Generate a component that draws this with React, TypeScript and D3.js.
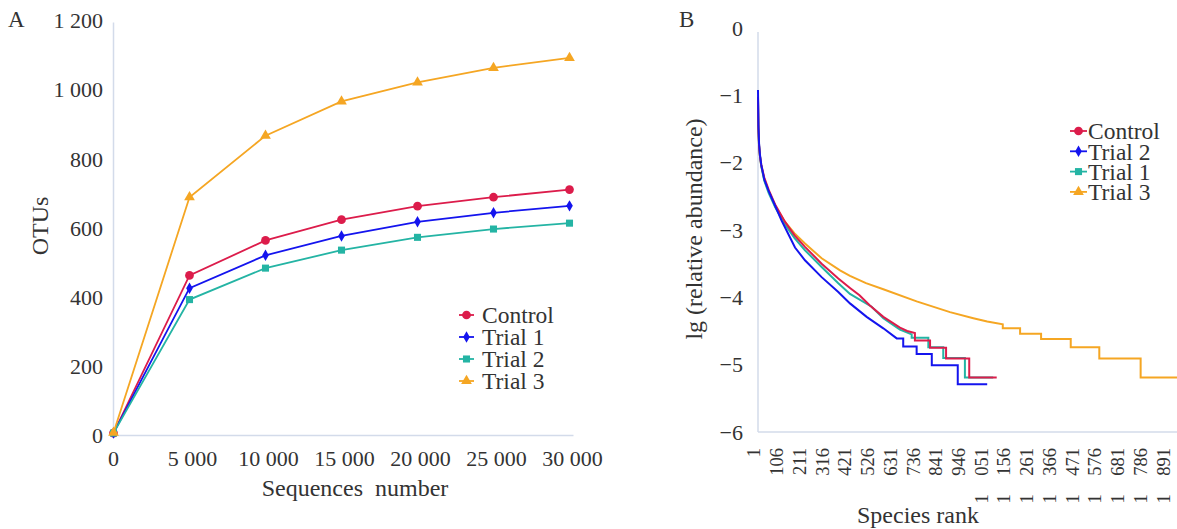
import React from "react";
import * as d3 from "d3";

// ---------- Panel A data ----------
const seqTicks = [0, 5000, 10000, 15000, 20000, 25000, 30000];
const otuTicks = [0, 200, 400, 600, 800, 1000, 1200];
const seqX = [0, 5000, 10000, 15000, 20000, 25000, 30000];
const controlA = [7, 463, 564, 624, 663, 689, 711];
const trial1A = [7, 426, 521, 577, 618, 644, 664];
const trial2A = [7, 393, 484, 536, 573, 597, 614];
const trial3A = [8, 689, 867, 966, 1021, 1063, 1092];
const namesA = ["Control", "Trial 1", "Trial 2", "Trial 3"];

// ---------- Panel B data (rank, lg abundance) ----------
const rankTicks = [1, 106, 211, 316, 421, 526, 631, 736, 841, 946, 1051, 1156, 1261, 1366, 1471, 1576, 1681, 1786, 1891];
const lgTicks = [0, -1, -2, -3, -4, -5, -6];
const controlB: [number, number][] = [[1,-1.02],[3,-1.5],[6,-1.75],[10,-1.9],[16,-2.03],[30,-2.22],[50,-2.4],[80,-2.62],[126,-2.88],[170,-3.08],[218,-3.25],[295,-3.50],[372,-3.72],[426,-3.86],[470,-3.97],[518,-4.12],[580,-4.29],[657,-4.45],[690,-4.5],[726,-4.53],[726,-4.64],[796,-4.64],[796,-4.75],[870,-4.75],[870,-4.91],[977,-4.91],[977,-5.19],[1104,-5.19]];
const trial2B: [number, number][] = [[1,-0.92],[3,-1.45],[6,-1.72],[10,-1.88],[16,-2.03],[30,-2.25],[50,-2.42],[80,-2.64],[110,-2.86],[141,-3.06],[172,-3.26],[218,-3.45],[295,-3.70],[372,-3.92],[426,-4.09],[503,-4.29],[580,-4.46],[642,-4.61],[672,-4.61],[672,-4.73],[734,-4.73],[734,-4.84],[804,-4.84],[804,-5.01],[924,-5.01],[924,-5.29],[1060,-5.29]];
const trial1B: [number, number][] = [[1,-1.05],[3,-1.5],[6,-1.75],[10,-1.9],[16,-2.05],[30,-2.27],[50,-2.45],[80,-2.66],[126,-2.92],[170,-3.12],[218,-3.30],[295,-3.55],[372,-3.79],[426,-3.95],[526,-4.14],[580,-4.31],[657,-4.48],[711,-4.55],[711,-4.60],[788,-4.60],[788,-4.74],[857,-4.74],[857,-4.90],[957,-4.90],[957,-5.19],[1088,-5.19]];
const trial3B: [number, number][] = [[1,-1.07],[3,-1.5],[6,-1.75],[10,-1.9],[16,-2.05],[30,-2.25],[50,-2.42],[80,-2.64],[126,-2.88],[170,-3.05],[218,-3.20],[295,-3.42],[380,-3.60],[426,-3.68],[500,-3.79],[580,-3.88],[734,-4.06],[888,-4.22],[996,-4.31],[1060,-4.36],[1132,-4.40],[1132,-4.46],[1212,-4.46],[1212,-4.54],[1309,-4.54],[1309,-4.62],[1446,-4.62],[1446,-4.74],[1578,-4.74],[1578,-4.91],[1769,-4.91],[1769,-5.19],[1937,-5.19]];
const namesB = ["Control", "Trial 2", "Trial 1", "Trial 3"];

const colors = ["#dc1c4b", "#1414ee", "#24b4a4", "#f5a623"];
const symbols = [d3.symbolCircle, d3.symbolDiamond, d3.symbolSquare, d3.symbolTriangle];
const symSizes = [60, 38, 50, 50];
const axisColor = "#d3dbea";
const FONT = "'Liberation Serif', 'Times New Roman', serif";
const textColor = "#333";

const fmt = (v: number, sep = " ") => {
  const s = Math.abs(v).toString().replace(/\B(?=(\d{3})+(?!\d))/g, sep);
  return (v < 0 ? "\u2212" : "") + s;
};

export default function App() {
  // Panel A scales
  const xA = d3.scaleLinear().domain([0, 30000]).range([113.5, 569.5]);
  const yA = d3.scaleLinear().domain([0, 1200]).range([435.5, 20.5]);
  const seriesA = [controlA, trial1A, trial2A, trial3A];
  const lineA = d3.line<[number, number]>().x(d => xA(d[0])).y(d => yA(d[1]));

  // Panel B scales
  const xB = d3.scaleLinear().domain([1, 1937]).range([758, 1177]);
  const yB = d3.scaleLinear().domain([0, -6]).range([28, 432]);
  const seriesB = [controlB, trial2B, trial1B, trial3B];
  const lineB = d3.line<[number, number]>().x(d => xB(d[0])).y(d => yB(d[1]));

  return (
    <svg width={1177} height={529} style={{ position: "absolute", left: 0, top: 0, background: "#fff" }} fontFamily={FONT}>
      {/* ---------------- Panel A ---------------- */}
      <text x={8} y={27} fontSize={23} fill={textColor}>A</text>
      <line x1={xA(0)} x2={xA(0)} y1={yA(1200) + 2} y2={yA(0)} stroke={axisColor} strokeWidth={1.5} />
      <line x1={xA(0)} x2={xA(30000) + 4} y1={yA(0)} y2={yA(0)} stroke={axisColor} strokeWidth={1.5} />
      {otuTicks.map(t => (
        <text key={t} x={103} y={yA(t)} dy="0.35em" textAnchor="end" fontSize={22} fill={textColor}>{fmt(t)}</text>
      ))}
      {seqTicks.map(t => (
        <text key={t} x={xA(t) + (t === 0 ? 0 : 3)} y={466} textAnchor="middle" fontSize={22} fill={textColor}>{fmt(t)}</text>
      ))}
      <text x={355} y={496} textAnchor="middle" fontSize={24} fill={textColor}>Sequences{"\u2002"}number</text>
      <text transform={`translate(48,226) rotate(-90)`} textAnchor="middle" fontSize={24} fill={textColor}>OTUs</text>
      {seriesA.map((s, i) => {
        const pts = seqX.map((x, j) => [x, s[j]] as [number, number]);
        return (
          <g key={i}>
            <path d={lineA(pts) || ""} fill="none" stroke={colors[i]} strokeWidth={1.8} />
            {pts.map((p, j) => (
              <path key={j} d={d3.symbol().type(symbols[i]).size(symSizes[i])() || ""} transform={`translate(${xA(p[0])},${yA(p[1])})`} fill={colors[i]} />
            ))}
          </g>
        );
      })}
      {namesA.map((n, i) => {
        const y = 315 + i * 22;
        return (
          <g key={n}>
            <line x1={459} x2={474} y1={y} y2={y} stroke={colors[i]} strokeWidth={1.8} />
            <path d={d3.symbol().type(symbols[i]).size(symSizes[i])() || ""} transform={`translate(466.5,${y})`} fill={colors[i]} />
            <text x={482} y={y} dy="0.35em" fontSize={23.5} fill={textColor}>{n}</text>
          </g>
        );
      })}

      {/* ---------------- Panel B ---------------- */}
      <text x={679} y={27} fontSize={23} fill={textColor}>B</text>
      <line x1={xB(1)} x2={xB(1)} y1={yB(0) + 4} y2={yB(-6)} stroke={axisColor} strokeWidth={1.5} />
      <line x1={xB(1)} x2={1177} y1={yB(-6)} y2={yB(-6)} stroke={axisColor} strokeWidth={1.5} />
      {lgTicks.map(t => (
        <text key={t} x={743} y={yB(t)} dy="0.35em" textAnchor="end" fontSize={22} fill={textColor}>{fmt(t)}</text>
      ))}
      {rankTicks.map(t => (
        <text key={t} transform={`translate(${xB(t) - 4},${448}) rotate(-90)`} dy="0.35em" textAnchor="end" fontSize={18.5} fill={textColor}>{fmt(t, "\u2003")}</text>
      ))}
      <text x={918} y={523} textAnchor="middle" fontSize={24} fill={textColor}>Species rank</text>
      <text transform={`translate(702,229) rotate(-90)`} textAnchor="middle" fontSize={24} fill={textColor}>lg (relative abundance)</text>
      {[3, 2, 0, 1].map(i => (
        <path key={i} d={lineB(seriesB[i]) || ""} fill="none" stroke={colors[i]} strokeWidth={2} />
      ))}
      {namesB.map((n, i) => {
        const y = 131 + i * 20.3;
        return (
          <g key={n}>
            <line x1={1070} x2={1087} y1={y} y2={y} stroke={colors[i]} strokeWidth={1.8} />
            <path d={d3.symbol().type(symbols[i]).size(symSizes[i])() || ""} transform={`translate(1078.5,${y})`} fill={colors[i]} />
            <text x={1088} y={y} dy="0.35em" fontSize={23.5} fill={textColor}>{n}</text>
          </g>
        );
      })}
    </svg>
  );
}
